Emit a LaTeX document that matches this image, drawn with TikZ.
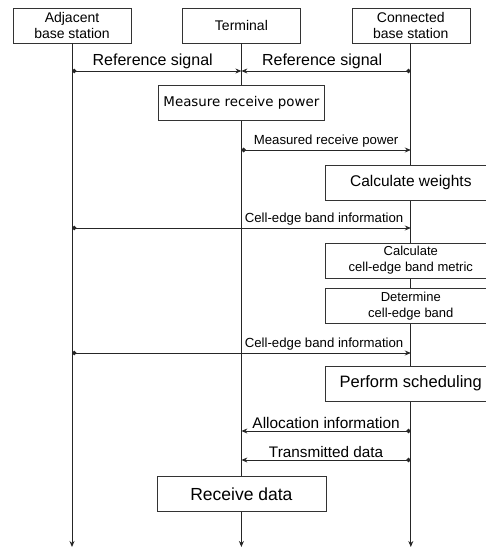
\documentclass[tikz,border=0pt]{standalone}
\usepackage{fontspec}
\setmainfont{Liberation Sans}
\newfontfamily\dejavu{DejaVu Sans}
\usetikzlibrary{arrows.meta,positioning}

\begin{document}
\begin{tikzpicture}[
    x=1pt, y=-1pt,
    node distance=51pt,
    head/.style={draw=black!80, minimum height=35pt, minimum width=118pt, font=\fontsize{14}{16}\selectfont, align=center, inner sep=1pt},
    act/.style={draw=black!80, fill=white, minimum height=35pt, minimum width=172pt, align=center, inner sep=1pt},
    life/.style={draw=black!85, line width=0.9pt, -{Stealth[length=6pt,width=5pt]}},
    msg/.style={draw=black!85, line width=0.9pt, arrows={Circle[length=4.5pt]-Stealth[length=6pt,width=5pt]}},
    lbl/.style={above, inner sep=2pt, text=black}
]
\useasboundingbox (0,0) rectangle (486,548);
\clip (0,0) rectangle (486,548);
\node[head] (adj) at (72,25.5) {Adjacent\\base station};
\node[head, right=of adj] (term) {Terminal};
\node[head, right=of term] (conn) {Connected\\base station};

\coordinate (adjend) at (adj |- 0,547);
\coordinate (termend) at (term |- 0,547);
\coordinate (connend) at (conn |- 0,547);
\draw[life] (adj) -- (adjend);
\draw[life] (term) -- (termend);
\draw[life] (conn) -- (connend);

\node[act, minimum width=166pt, font=\dejavu\fontsize{13.4}{16}\selectfont] (meas) at (term |- 0,103) {Measure receive power};
\node[act, font=\fontsize{15.5}{18}\selectfont] (wts) at (conn |- 0,182.5) {Calculate weights};
\node[act, font=\fontsize{13}{16}\selectfont] (metric) at (conn |- 0,260.5) {Calculate\\cell-edge band metric};
\node[act, font=\fontsize{13}{16}\selectfont] (band) at (conn |- 0,306) {Determine\\cell-edge band};
\node[act, font=\fontsize{16.5}{19}\selectfont] (sched) at (conn |- 0,383.5) {Perform scheduling};
\node[act, minimum width=169pt, font=\fontsize{17.5}{20}\selectfont] (recv) at (term |- 0,494) {Receive data};

\draw[msg] (adj |- 0,71) -- (term |- 0,71) node[lbl, midway, xshift=-4pt, font=\fontsize{16}{18}\selectfont] {Reference signal};
\draw[msg] (conn |- 0,71) -- (term |- 0,71) node[lbl, midway, xshift=-4pt, font=\fontsize{16}{18}\selectfont] {Reference signal};
\draw[msg] (term |- 0,150) -- (conn |- 0,150) node[lbl, midway, font=\fontsize{13.2}{16}\selectfont] {Measured receive power};
\draw[msg] (adj |- 0,228) -- (conn |- 0,228) node[lbl, pos=1, anchor=south east, xshift=-5pt, font=\fontsize{13.2}{16}\selectfont] {Cell-edge band information};
\draw[msg] (adj |- 0,353) -- (conn |- 0,353) node[lbl, pos=1, anchor=south east, xshift=-5pt, font=\fontsize{13.2}{16}\selectfont] {Cell-edge band information};
\draw[msg] (conn |- 0,431) -- (term |- 0,431) node[lbl, midway, font=\fontsize{15.4}{18}\selectfont] {Allocation information};
\draw[msg] (conn |- 0,460) -- (term |- 0,460) node[lbl, midway, font=\fontsize{15.3}{18}\selectfont] {Transmitted data};
\end{tikzpicture}
\end{document}
